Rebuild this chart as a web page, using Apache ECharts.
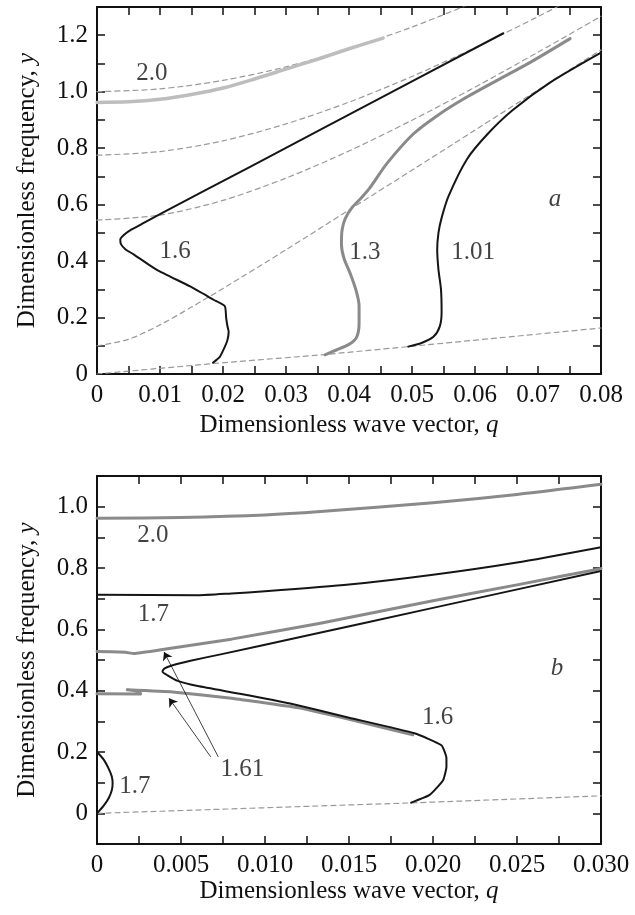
<!DOCTYPE html>
<html>
<head>
<meta charset="utf-8">
<script src="https://cdn.jsdelivr.net/npm/echarts@6/dist/echarts.min.js"></script>
<style>html,body{margin:0;padding:0;background:#fff;}#c{width:635px;height:915px;}</style>
</head>
<body>
<div id="c"></div>
<script>
// ---------- Panel a data: [q, y] ----------
const aDash0 = [[0,0],[0.0184,0.037],[0.0362,0.069],[0.0494,0.097],[0.08,0.163]];
const aDash1 = [[0,0.1],[0.005,0.123],[0.01,0.174],[0.015,0.237],[0.02,0.303],[0.03,0.44],[0.04,0.581],[0.05,0.722],[0.06,0.864],[0.07,1.006],[0.08,1.148]];
const aDash2 = [[0,0.545],[0.01,0.563],[0.02,0.615],[0.03,0.694],[0.04,0.79],[0.05,0.899],[0.06,1.016],[0.07,1.14],[0.08,1.267]];
const aDash3 = [[0,0.775],[0.01,0.788],[0.02,0.826],[0.03,0.886],[0.04,0.963],[0.05,1.054],[0.06,1.156],[0.07,1.266],[0.08,1.382]];
const aDash4 = [[0,1.0],[0.01,1.01],[0.02,1.04],[0.03,1.088],[0.04,1.152],[0.05,1.229],[0.06,1.318]];
const aCurve20 = [[0,0.962],[0.005,0.964],[0.01,0.973],[0.015,0.99],[0.02,1.013],[0.025,1.045],[0.03,1.08],[0.035,1.115],[0.04,1.152],[0.0454,1.19]];
const aCurve16 = [[0.0645,1.207],[0.0354,0.865],[0.0243,0.734],[0.0103,0.570],[0.0075,0.536],[0.0055,0.512],[0.0043,0.493],[0.0037,0.476],[0.0038,0.46],[0.0045,0.442],[0.0058,0.424],[0.0095,0.369],[0.0148,0.31],[0.0185,0.263],[0.0203,0.24],[0.0205,0.2],[0.0207,0.17],[0.0209,0.15],[0.0207,0.12],[0.0203,0.097],[0.0195,0.061],[0.0184,0.04]];
const aCurve13 = [[0.0362,0.068],[0.038,0.085],[0.04,0.105],[0.0412,0.13],[0.0416,0.18],[0.0416,0.24],[0.0412,0.29],[0.0403,0.35],[0.0392,0.41],[0.0388,0.46],[0.0389,0.51],[0.0394,0.55],[0.0405,0.59],[0.042,0.625],[0.0433,0.659],[0.046,0.745],[0.0502,0.85],[0.054,0.915],[0.0581,0.973],[0.0635,1.04],[0.0687,1.103],[0.0751,1.188]];
const aCurve101 = [[0.0494,0.097],[0.0515,0.11],[0.0534,0.132],[0.0544,0.168],[0.0547,0.22],[0.0546,0.3],[0.0542,0.37],[0.054,0.44],[0.0542,0.5],[0.0547,0.553],[0.0558,0.63],[0.0587,0.76],[0.062,0.85],[0.066,0.935],[0.0719,1.032],[0.08,1.138]];
const aLabels = [[0.00873,1.065,'2.0'],[0.0124,0.433,'1.6'],[0.0425,0.43,'1.3'],[0.0597,0.43,'1.01']];
const aLetter = [[0.0727,0.618,'a']];

// ---------- Panel b data: [q, y] ----------
const bDash = [[0,0],[0.0187,0.034],[0.03,0.057]];
const bCurve20 = [[0,0.962],[0.005,0.965],[0.01,0.973],[0.0133,0.984],[0.02,1.013],[0.025,1.04],[0.03,1.073]];
const bCurve17 = [[0,0.713],[0.006,0.711],[0.008,0.717],[0.01,0.724],[0.015,0.746],[0.02,0.778],[0.025,0.818],[0.03,0.868]];
const bCurve161a = [[0,0.528],[0.0017,0.525],[0.0022,0.521],[0.004,0.535],[0.008,0.568],[0.0133,0.62],[0.02,0.693],[0.025,0.745],[0.03,0.798]];
const bCurve161b = [[0,0.39],[0.0026,0.389],[0.0025,0.398],[0.0018,0.403],[0.0045,0.396],[0.008,0.375],[0.0121,0.343],[0.0155,0.30],[0.0188,0.256]];
const bCurve16 = [[0.03,0.79],[0.02,0.67],[0.0121,0.575],[0.0075,0.52],[0.0055,0.497],[0.0045,0.483],[0.004,0.472],[0.0039,0.462],[0.0042,0.45],[0.0048,0.432],[0.006,0.415],[0.0085,0.39],[0.0115,0.358],[0.015,0.312],[0.0189,0.261],[0.0205,0.222],[0.0208,0.18],[0.0208,0.152],[0.0206,0.108],[0.0198,0.06],[0.0187,0.035]];
const bCurve17low = [[0,0.2],[0.0004,0.175],[0.0007,0.145],[0.00088,0.12],[0.00093,0.098],[0.00088,0.075],[0.0007,0.05],[0.0004,0.025],[0,0]];
const bArrows = [[[0.00722,0.184],[0.00399,0.526]],[[0.00677,0.184],[0.00429,0.375]]];
const bLabels = [[0.00333,0.905,'2.0'],[0.00336,0.649,'1.7'],[0.02027,0.312,'1.6'],[0.00866,0.144,'1.61'],[0.00226,0.089,'1.7']];
const bLetter = [[0.02738,0.472,'b']];

// ---------- styling ----------
const FF = "'Liberation Serif', 'Times New Roman', Times, serif";
const FS = 25;
const BLACK = '#151515', MGRAY = '#8a8a8a', LGRAY = '#bdbdbd', DGRAY = '#9a9a9a';

const fmtA_x = v => { const k = Math.round(v/0.005); if (k % 2) return ''; return k === 0 ? '0' : v.toFixed(2); };
const fmtB_x = v => { const k = Math.round(v/0.0025); if (k % 2) return ''; return k === 0 ? '0' : v.toFixed(3); };
const fmtY = v => { const k = Math.round(v*10); if (k < 0 || k % 2) return ''; return k === 0 ? '0' : v.toFixed(1); };

const nameStyle = {fontFamily: FF, fontSize: FS, color: '#111',
  rich: {i: {fontFamily: FF, fontSize: FS, fontStyle: 'italic', color: '#111'}}};
const axLine = {show: true, onZero: false, lineStyle: {color: '#111', width: 2}};
const tick = {show: true, inside: true, length: 8, lineStyle: {color: '#111', width: 1.5}};

function xAxis(grid, pos, max, interval, fmt, name, gap) {
  return {type: 'value', gridIndex: grid, position: pos, min: 0, max: max, interval: interval,
    axisLine: axLine, axisTick: tick, splitLine: {show: false},
    axisLabel: fmt ? {show: true, formatter: fmt, fontFamily: FF, fontSize: FS, color: '#111', margin: 9, showMinLabel: true, showMaxLabel: true} : {show: false},
    name: name || '', nameLocation: 'middle', nameGap: gap || 0, nameTextStyle: nameStyle};
}
function yAxis(grid, pos, min, max, fmt, name, gap) {
  return {type: 'value', gridIndex: grid, position: pos, min: min, max: max, interval: 0.1,
    axisLine: axLine, axisTick: tick, splitLine: {show: false},
    axisLabel: fmt ? {show: true, formatter: fmt, fontFamily: FF, fontSize: FS, color: '#111', margin: 9, showMinLabel: true, showMaxLabel: true} : {show: false},
    name: name || '', nameLocation: 'middle', nameGap: gap || 0, nameRotate: 90, nameTextStyle: nameStyle};
}

function line(data, xi, color, width, dashed, smooth, z) {
  return {type: 'line', xAxisIndex: xi, yAxisIndex: xi, data: data, showSymbol: false, symbol: 'none',
    smooth: smooth, clip: true, z: z || 3, silent: true,
    lineStyle: {color: color, width: width, type: dashed ? [5, 4] : 'solid', cap: 'round', join: 'round'}};
}
function texts(data, xi, italic) {
  return {type: 'scatter', xAxisIndex: xi, yAxisIndex: xi, data: data, symbolSize: 0.1, z: 6, silent: true,
    itemStyle: {color: 'rgba(0,0,0,0)'},
    label: {show: true, position: 'inside', formatter: p => p.value[2], fontFamily: FF, fontSize: FS,
      fontStyle: italic ? 'italic' : 'normal', color: '#111'}};
}

const arrowSeries = line(bDash, 2, DGRAY, 1.2, true, false, 2);
arrowSeries.markLine = {silent: true, animation: false, symbol: ['none', 'arrow'], symbolSize: 8,
  label: {show: false}, lineStyle: {color: '#111', width: 0.8, type: 'solid'},
  data: bArrows.map(a => [{coord: a[0]}, {coord: a[1]}])};

const option = {
  animation: false,
  backgroundColor: '#fff',
  grid: [
    {left: 97, top: 7, width: 504, height: 367},
    {left: 97, top: 476, width: 504, height: 368}
  ],
  xAxis: [
    xAxis(0, 'bottom', 0.08, 0.005, fmtA_x, 'Dimensionless wave vector, {i|q}', 39),
    xAxis(0, 'top', 0.08, 0.005, null),
    xAxis(1, 'bottom', 0.03, 0.0025, fmtB_x, 'Dimensionless wave vector, {i|q}', 26),
    xAxis(1, 'top', 0.03, 0.0025, null)
  ],
  yAxis: [
    yAxis(0, 'left', 0, 1.3, fmtY, 'Dimensionless frequency, {i|y}', 57),
    yAxis(0, 'right', 0, 1.3, null),
    yAxis(1, 'left', -0.1, 1.1, fmtY, 'Dimensionless frequency, {i|y}', 57),
    yAxis(1, 'right', -0.1, 1.1, null)
  ],
  series: [
    line(aDash0, 0, DGRAY, 1.2, true, false, 2),
    line(aDash1, 0, DGRAY, 1.2, true, 0.3, 2),
    line(aDash2, 0, DGRAY, 1.2, true, 0.3, 2),
    line(aDash3, 0, DGRAY, 1.2, true, 0.3, 2),
    line(aDash4, 0, DGRAY, 1.2, true, 0.3, 2),
    line(aCurve20, 0, LGRAY, 3.5, false, 0.3),
    line(aCurve16, 0, BLACK, 2, false, 0.15),
    line(aCurve13, 0, MGRAY, 3, false, 0.25),
    line(aCurve101, 0, BLACK, 2, false, 0.25),
    texts(aLabels, 0, false),
    texts(aLetter, 0, true),
    arrowSeries,
    line(bCurve20, 2, MGRAY, 3, false, 0.3),
    line(bCurve17, 2, BLACK, 2, false, 0.2),
    line(bCurve161a, 2, MGRAY, 3, false, 0.1),
    line(bCurve161b, 2, MGRAY, 3, false, 0.1),
    line(bCurve16, 2, BLACK, 2, false, 0.15, 4),
    line(bCurve17low, 2, BLACK, 2, false, 0.3),
    texts(bLabels, 2, false),
    texts(bLetter, 2, true)
  ]
};
const chart = echarts.init(document.getElementById('c'), null, {renderer: 'canvas'});
chart.setOption(option);
</script>
</body>
</html>
